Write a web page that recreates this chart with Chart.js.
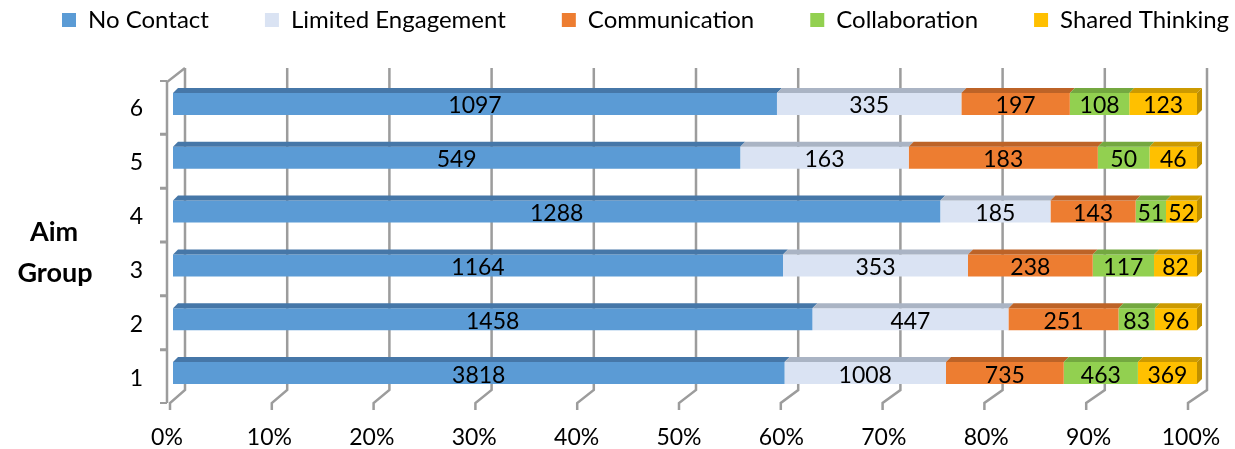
<!DOCTYPE html>
<html>
<head>
<meta charset="utf-8">
<script src="https://cdn.jsdelivr.net/npm/chart.js@4.4.0/dist/chart.umd.min.js"></script>
<style>
html,body{margin:0;padding:0;background:#ffffff;}
#wrap{width:1235px;height:449px;position:relative;}
</style>
</head>
<body>
<div id="wrap"><canvas id="c"></canvas></div>
<script>
// ---- data ----
const categories = ['1', '2', '3', '4', '5', '6'];
const seriesNames = ['No Contact', 'Limited Engagement', 'Communication', 'Collaboration', 'Shared Thinking'];
const noContact = [3818, 1458, 1164, 1288, 549, 1097];
const limitedEngagement = [1008, 447, 353, 185, 163, 335];
const communication = [735, 251, 238, 143, 183, 197];
const collaboration = [463, 83, 117, 51, 50, 108];
const sharedThinking = [369, 96, 82, 52, 46, 123];
const xTickValues = [0, 10, 20, 30, 40, 50, 60, 70, 80, 90, 100];
const xTickLabels = ['0%', '10%', '20%', '30%', '40%', '50%', '60%', '70%', '80%', '90%', '100%'];
const yTitleLines = ['Aim', 'Group'];

// ---- styles ----
const faceColors = ['#5B9BD5', '#DAE3F3', '#ED7D31', '#92D050', '#FFC000'];
const topColors = ['#4677A8', '#AAB4C4', '#BD6327', '#74A840', '#CC9A00'];
const sideColor = '#BF9000';
const gridColor = '#9C9C9C';
const FONT = 'Lato, "Open Sans", sans-serif';

const counts = [noContact, limitedEngagement, communication, collaboration, sharedThinking];
const totals = categories.map((_, j) => counts.reduce((s, arr) => s + arr[j], 0));
const percent = arr => arr.map((v, j) => v / totals[j] * 100);

const LEGEND_SPACE = 77;
const LEGEND_FIRST_X = 62;
const LEGEND_TEXT_Y = 20;
const DEPTH = 5;

const legendPlacement = {
  id: 'legendPlacement',
  beforeInit(chart) {
    const lg = chart.legend;
    if (!lg) return;
    const orig = lg.fit;
    lg.fit = function () {
      this.maxWidth = 5000;
      orig.call(this);
      this.height = LEGEND_SPACE;
    };
  },
  afterLayout(chart) {
    const lg = chart.legend;
    if (!lg || !lg.lineWidths) return;
    const p = lg.options.labels.padding;
    const lw = lg.lineWidths[0];
    const fs = lg.options.labels.font.size;
    const itemH = Math.max(fs, lg.options.labels.boxHeight);
    lg.left = LEGEND_FIRST_X - p - 20;
    lg.right = LEGEND_FIRST_X + lw + 20;
    lg.width = lg.right - lg.left;
    lg.top = LEGEND_TEXT_Y - p - itemH / 2;
    lg.bottom = LEGEND_TEXT_Y + 30;
    lg.height = lg.bottom - lg.top;
  }
};

const frame3d = {
  id: 'frame3d',
  beforeDatasetsDraw(chart) {
    const {ctx, chartArea: ca, scales: {x, y}} = chart;
    ctx.save();
    ctx.strokeStyle = gridColor;
    ctx.lineWidth = 2.5;
    xTickValues.forEach(v => {
      const p = x.getPixelForValue(v);
      const bx = p + 12 - 0.02 * v;
      const fx = p - 3 - 0.06 * v;
      ctx.beginPath();
      ctx.moveTo(bx, ca.top - 9);
      ctx.lineTo(bx, ca.bottom - 10);
      ctx.lineTo(fx, ca.bottom + 3);
      ctx.lineTo(fx, ca.bottom + 10);
      ctx.stroke();
    });
    const wx = ca.left - 6;
    ctx.beginPath();
    ctx.moveTo(ca.left + 12, ca.top - 9);
    ctx.lineTo(wx, ca.top + 5);
    ctx.lineTo(wx, ca.bottom + 3);
    ctx.stroke();
    const half = (ca.bottom - ca.top) / categories.length / 2;
    ctx.lineWidth = 2;
    ctx.beginPath();
    categories.forEach((c, i) => {
      const cy = y.getPixelForValue(i);
      [cy - half + 4, cy + half + 3].forEach(yy => {
        ctx.moveTo(wx - 7, yy);
        ctx.lineTo(wx, yy);
      });
    });
    ctx.stroke();
    ctx.restore();
  },
  afterDatasetsDraw(chart) {
    const {ctx} = chart;
    ctx.save();
    chart.data.datasets.forEach((ds, i) => {
      const meta = chart.getDatasetMeta(i);
      meta.data.forEach(el => {
        const {x, base, y, height} = el.getProps(['x', 'base', 'y', 'height'], true);
        const l = Math.min(x, base), r = Math.max(x, base);
        const t = y - height / 2, b = y + height / 2;
        ctx.fillStyle = topColors[i];
        ctx.beginPath();
        ctx.moveTo(l, t);
        ctx.lineTo(l + DEPTH, t - DEPTH);
        ctx.lineTo(r + DEPTH, t - DEPTH);
        ctx.lineTo(r, t);
        ctx.closePath();
        ctx.fill();
        if (i === chart.data.datasets.length - 1) {
          ctx.fillStyle = sideColor;
          ctx.beginPath();
          ctx.moveTo(r, t);
          ctx.lineTo(r + DEPTH, t - DEPTH);
          ctx.lineTo(r + DEPTH, b - DEPTH);
          ctx.lineTo(r, b);
          ctx.closePath();
          ctx.fill();
        }
      });
    });
    ctx.fillStyle = '#000000';
    ctx.font = '23px ' + FONT;
    ctx.textAlign = 'center';
    ctx.textBaseline = 'middle';
    chart.data.datasets.forEach((ds, i) => {
      const meta = chart.getDatasetMeta(i);
      meta.data.forEach((el, j) => {
        const pt = el.getCenterPoint();
        ctx.fillText(String(counts[i][j]), pt.x, pt.y + 2);
      });
    });
    ctx.restore();
  },
  afterDraw(chart) {
    const {ctx} = chart;
    ctx.save();
    ctx.fillStyle = '#000000';
    ctx.font = 'bold 27px ' + FONT;
    ctx.textAlign = 'center';
    ctx.textBaseline = 'middle';
    ctx.fillText(yTitleLines[0], 54, 232);
    ctx.fillText(yTitleLines[1], 55, 273);
    ctx.restore();
  }
};

new Chart(document.getElementById('c'), {
  type: 'bar',
  data: {
    labels: categories,
    datasets: counts.map((arr, i) => ({
      label: seriesNames[i],
      data: percent(arr),
      backgroundColor: faceColors[i],
      borderWidth: 0,
      barPercentage: 0.41,
      categoryPercentage: 1.0
    }))
  },
  options: {
    indexAxis: 'y',
    responsive: true,
    maintainAspectRatio: false,
    animation: false,
    devicePixelRatio: 1,
    layout: {padding: {left: 0, right: 38, top: 0, bottom: 0}},
    plugins: {
      legend: {
        position: 'top',
        labels: {
          boxWidth: 14,
          boxHeight: 14,
          padding: 56,
          color: '#000000',
          font: {family: FONT, size: 24}
        }
      },
      tooltip: {enabled: false}
    },
    scales: {
      x: {
        stacked: true,
        min: 0,
        max: 100,
        grid: {display: false, drawTicks: false},
        border: {display: false},
        ticks: {
          stepSize: 10,
          padding: 24,
          labelOffset: -6,
          color: '#000000',
          font: {family: FONT, size: 23},
          callback: v => { const k = xTickValues.indexOf(v); return k >= 0 ? xTickLabels[k] : ''; }
        },
        afterFit: s => { s.height = 49; s.paddingLeft = 0; s.paddingRight = 0; }
      },
      y: {
        stacked: true,
        reverse: true,
        grid: {display: false, drawTicks: false},
        border: {display: false},
        ticks: {
          padding: 30,
          labelOffset: 5,
          color: '#000000',
          font: {family: FONT, size: 23}
        },
        afterFit: s => { s.width = 173; s.paddingTop = 0; s.paddingBottom = 0; }
      }
    }
  },
  plugins: [legendPlacement, frame3d]
});
</script>
</body>
</html>
